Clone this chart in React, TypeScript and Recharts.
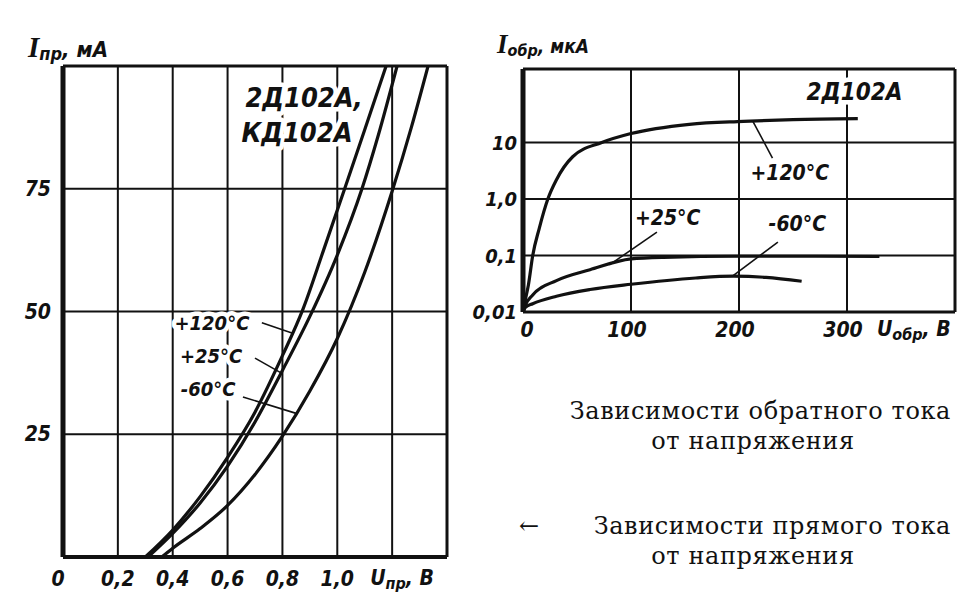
import React from 'react';
import { LineChart, Line, XAxis, YAxis, CartesianGrid, ReferenceLine, ReferenceDot } from 'recharts';

// left panel: forward current (mA) vs forward voltage (V)
const fwdUTicks = [0, 0.2, 0.4, 0.6, 0.8, 1.0, 1.2, 1.4];
const fwdITicks = [0, 25, 50, 75, 100];

const fwd120U = [0.3, 0.4, 0.5, 0.6, 0.7, 0.8, 0.875, 0.95, 1.03, 1.1, 1.178];
const fwd120I = [0, 5.5, 12.3, 20.3, 29.5, 41, 50.5, 62.5, 75.5, 87, 100];
const fwd25U = [0.31, 0.4, 0.5, 0.6, 0.7, 0.8, 0.9, 1.0, 1.09, 1.15, 1.218];
const fwd25I = [0, 4.8, 11, 18.5, 27.5, 38, 49, 61.5, 75, 86, 100];
const fwdM60U = [0.36, 0.4, 0.5, 0.6, 0.7, 0.8, 0.9, 1.0, 1.1, 1.2, 1.27, 1.331];
const fwdM60I = [0, 1.8, 5.8, 10.5, 16.8, 24.6, 33.8, 44.5, 58, 74.5, 87.5, 100];

// right panel: reverse current (uA, log) vs reverse voltage (V)
const revUTicks = [0, 100, 200, 300, 400];
const revITicks = [0.01, 0.1, 1, 10, 200];
const revITickLabels = ['0,01', '0,1', '1,0', '10', ''];

const rev120U = [0, 2, 5, 9, 15, 23, 31, 46, 73, 100, 154, 204, 250, 310];
const rev120I = [0.01, 0.016, 0.03, 0.1, 0.3, 1, 2.2, 5.6, 10, 14.4, 21, 23.7, 25.5, 26.5];
const rev25U = [0, 2, 9, 31, 62, 100, 130, 200, 270, 330];
const rev25I = [0.01, 0.013, 0.02, 0.036, 0.056, 0.087, 0.093, 0.097, 0.097, 0.096];
const revM60U = [0, 2, 9, 31, 62, 100, 160, 195, 225, 258];
const revM60I = [0.01, 0.012, 0.014, 0.019, 0.025, 0.031, 0.04, 0.043, 0.041, 0.035];

const pts = (xs: number[], ys: number[]) => xs.map((x, k) => ({ x, y: ys[k] }));

const ink = '#111';
const sans = '"DejaVu Sans Condensed", "DejaVu Sans", sans-serif';
const tickFont = { fontFamily: sans, fontStyle: 'italic', fontWeight: 700, fontSize: 21, fill: ink } as const;
const halo = { paintOrder: 'stroke', stroke: '#fff', strokeWidth: 9, strokeLinejoin: 'round' } as const;

const comma = (v: number) => (v === 0 ? '0' : v.toFixed(1).replace('.', ','));

const FwdXTick = (p: any) => {
  const v = p.payload.value;
  if (v > 1.05) return <g />;
  return (
    <text x={p.x + (v === 0 ? -5 : 0)} y={p.y + 20} textAnchor="middle" dominantBaseline="central" style={tickFont}>
      {comma(v)}
    </text>
  );
};

const FwdYTick = (p: any) => {
  const v = p.payload.value;
  if (v === 0 || v === 100) return <g />;
  return (
    <text x={p.x - 10} y={p.y} textAnchor="end" dominantBaseline="central" style={tickFont}>
      {v}
    </text>
  );
};

const RevXTick = (p: any) => {
  const v = p.payload.value;
  if (v > 350) return <g />;
  return (
    <text x={p.x + (v === 0 ? 4 : -4)} y={p.y + 16} textAnchor="middle" dominantBaseline="central" style={tickFont}>
      {v}
    </text>
  );
};

const RevYTick = (p: any) => {
  const k = revITicks.indexOf(p.payload.value);
  return (
    <text x={p.x - 4} y={p.y} textAnchor="end" dominantBaseline="central" style={{ ...tickFont, fontSize: 20 }}>
      {revITickLabels[k]}
    </text>
  );
};

const note = (key: string, x: number, y: number, text: string, size: number) => (
  <ReferenceDot
    key={key}
    x={x}
    y={y}
    r={0}
    fill="none"
    stroke="none"
    label={{
      content: (lp: any) => (
        <text
          x={lp.viewBox.x}
          y={lp.viewBox.y}
          textAnchor="middle"
          dominantBaseline="central"
          style={{ ...tickFont, fontSize: size, ...halo }}
        >
          {text}
        </text>
      ),
    }}
  />
);

const leader = (key: string, x1: number, y1: number, x2: number, y2: number) => (
  <ReferenceLine key={key} segment={[{ x: x1, y: y1 }, { x: x2, y: y2 }]} stroke={ink} strokeWidth={1.6} />
);

const curve = (key: string, data: { x: number; y: number }[]) => (
  <Line
    key={key}
    data={data}
    dataKey="y"
    type="monotone"
    stroke={ink}
    strokeWidth={3.2}
    dot={false}
    activeDot={false}
    isAnimationActive={false}
  />
);

const caption = {
  position: 'absolute',
  fontFamily: '"DejaVu Serif", serif',
  fontSize: 24,
  letterSpacing: 0.6,
  lineHeight: '28px',
  color: ink,
  whiteSpace: 'nowrap',
} as const;

export default function App() {
  return (
    <div style={{ position: 'absolute', left: 0, top: 0, width: 975, height: 600, background: '#fff' }}>
      <div style={{ position: 'absolute', left: 0, top: 0 }}>
        <LineChart width={480} height={600} margin={{ top: 66, right: 33, bottom: 13, left: 10 }}>
          <CartesianGrid stroke={ink} strokeWidth={2} />
          <XAxis
            type="number"
            dataKey="x"
            domain={[0, 1.4]}
            ticks={fwdUTicks}
            allowDataOverflow
            height={30}
            tickSize={0}
            tick={<FwdXTick />}
            axisLine={{ stroke: ink, strokeWidth: 4 }}
            label={{
              content: (lp: any) => (
                <text x={lp.viewBox.x + lp.viewBox.width * (1.2 / 1.4) - 22} y={lp.viewBox.y + 28} style={tickFont}>
                  U<tspan fontSize={16} dy={4}>пр</tspan>
                  <tspan dy={-4}>, В</tspan>
                </text>
              ),
            }}
          />
          <YAxis
            type="number"
            domain={[0, 100]}
            ticks={fwdITicks}
            allowDataOverflow
            width={53}
            tickSize={0}
            tick={<FwdYTick />}
            axisLine={{ stroke: ink, strokeWidth: 5 }}
            label={{
              content: () => (
                <text x={28} y={57} style={tickFont}>
                  <tspan fontFamily='"Liberation Serif", serif' fontSize={29}>I</tspan>
                  <tspan fontSize={18} dy={3}>пр</tspan>
                  <tspan dy={-3} fontSize={22}>, мА</tspan>
                </text>
              ),
            }}
          />
          <ReferenceLine y={100} stroke={ink} strokeWidth={3} />
          <ReferenceLine x={1.4} stroke={ink} strokeWidth={3} />
          {curve('f120', pts(fwd120U, fwd120I))}
          {curve('f25', pts(fwd25U, fwd25I))}
          {curve('fm60', pts(fwdM60U, fwdM60I))}
          {leader('l1', 0.725, 47.7, 0.84, 45.5)}
          {leader('l2', 0.7, 40.5, 0.795, 37.5)}
          {leader('l3', 0.656, 32.6, 0.853, 29.2)}
          {note('n1', 0.879, 93.5, '2Д102А,', 27)}
          {note('n2', 0.853, 86.4, 'КД102А', 27)}
          {note('n3', 0.543, 47.7, '+120°C', 20)}
          {note('n4', 0.54, 40.9, '+25°C', 20)}
          {note('n5', 0.529, 34.2, '-60°C', 20)}
        </LineChart>
      </div>

      <div style={{ position: 'absolute', left: 460, top: 0 }}>
        <LineChart width={515} height={345} margin={{ top: 69, right: 20, bottom: 3, left: 23 }}>
          <CartesianGrid stroke={ink} strokeWidth={2} />
          <XAxis
            type="number"
            dataKey="x"
            domain={[0, 400]}
            ticks={revUTicks}
            allowDataOverflow
            height={30}
            tickSize={0}
            tick={<RevXTick />}
            axisLine={{ stroke: ink, strokeWidth: 3 }}
            label={{
              content: (lp: any) => (
                <text x={lp.viewBox.x + lp.viewBox.width - 78} y={lp.viewBox.y + 24} style={tickFont}>
                  U<tspan fontSize={16} dy={4}>обр</tspan>
                  <tspan dy={-4}>, В</tspan>
                </text>
              ),
            }}
          />
          <YAxis
            type="number"
            scale="log"
            domain={[0.01, 200]}
            ticks={revITicks}
            allowDataOverflow
            width={40}
            tickSize={0}
            tick={<RevYTick />}
            axisLine={{ stroke: ink, strokeWidth: 5 }}
            label={{
              content: () => (
                <text x={37} y={53} style={tickFont}>
                  <tspan fontFamily='"Liberation Serif", serif' fontSize={27}>I</tspan>
                  <tspan fontSize={16} dy={3}>обр</tspan>
                  <tspan dy={-3} fontSize={19}>, мкА</tspan>
                </text>
              ),
            }}
          />
          <ReferenceLine y={200} stroke={ink} strokeWidth={3} />
          <ReferenceLine x={400} stroke={ink} strokeWidth={3} />
          {curve('r120', pts(rev120U, rev120I))}
          {curve('r25', pts(rev25U, rev25I))}
          {curve('rm60', pts(revM60U, revM60I))}
          {leader('k1', 213, 23.5, 231, 5.3)}
          {leader('k2', 124, 0.26, 80, 0.068)}
          {leader('k3', 236, 0.173, 194, 0.043)}
          {note('m1', 307, 78, '2Д102А', 24)}
          {note('m2', 247, 2.88, '+120°C', 21)}
          {note('m3', 134, 0.461, '+25°C', 21)}
          {note('m4', 254, 0.36, '-60°C', 21)}
        </LineChart>
      </div>

      <div style={{ ...caption, right: 24, top: 397 }}>Зависимости обратного тока</div>
      <div style={{ ...caption, left: 753, top: 427, transform: 'translateX(-50%)' }}>от напряжения</div>
      <div style={{ ...caption, left: 519, top: 512 }}>←</div>
      <div style={{ ...caption, right: 24, top: 512 }}>Зависимости прямого тока</div>
      <div style={{ ...caption, left: 753, top: 542, transform: 'translateX(-50%)' }}>от напряжения</div>
    </div>
  );
}
